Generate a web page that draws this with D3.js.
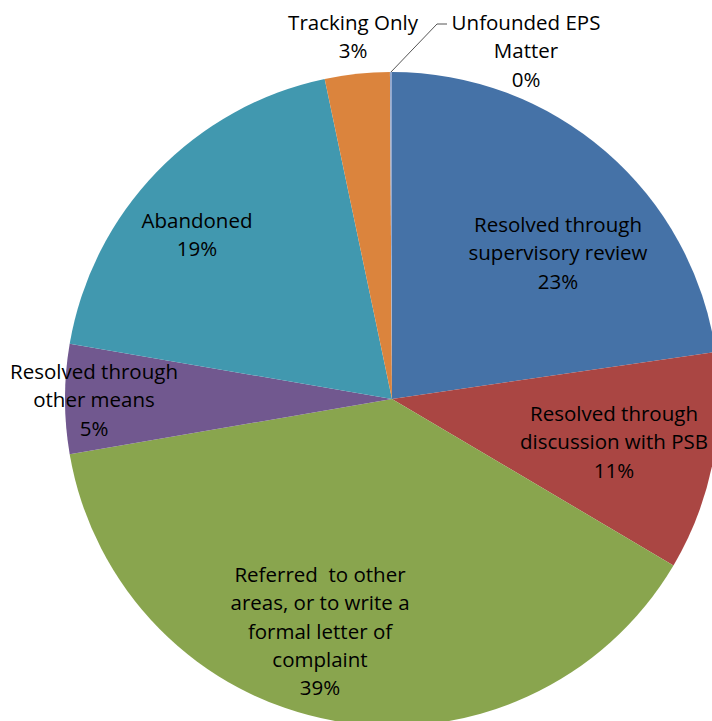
<!DOCTYPE html>
<html>
<head>
<meta charset="utf-8">
<script src="https://cdn.jsdelivr.net/npm/d3@7"></script>
<style>
  html, body { margin: 0; padding: 0; background: #fff; }
  svg { display: block; }
</style>
</head>
<body>
<div id="chart"></div>
<script>
// Slice data (clockwise from 12 o'clock)
const categories = [
    ['Resolved through', 'supervisory review'],
    ['Resolved through', 'discussion with PSB'],
    ['Referred  to other', 'areas, or to write a', 'formal letter of', 'complaint'],
    ['Resolved through', 'other means'],
    ['Abandoned'],
    ['Tracking Only'],
    ['Unfounded EPS', 'Matter']
];
const values = [22.7, 10.8, 38.8, 5.4, 19.0, 3.2, 0.1];
const colors = ['#4572A7', '#AA4643', '#89A54E', '#71588F', '#4198AF', '#DB843D', '#93A9CF'];

// Label anchors relative to the pie centre: [centre x, first baseline]
const labelAt = [
    [166, -167],
    [222, 22],
    [-72, 183],
    [-298, -20],
    [-195, -171],
    [-39, -369],
    [134, -369]
];

const width = 712, height = 721;
const cx = 392, cy = 399, radius = 327;
const lineHeight = 28.3;

const svg = d3.select('#chart')
    .append('svg')
    .attr('width', width)
    .attr('height', height);

const g = svg.append('g')
    .attr('transform', `translate(${cx},${cy})`);

const pie = d3.pie().sort(null).value(d => d);
const arcs = pie(values);
const arc = d3.arc().innerRadius(0).outerRadius(radius);

g.selectAll('path.slice')
    .data(arcs)
    .enter()
    .append('path')
    .attr('class', 'slice')
    .attr('d', arc)
    .attr('fill', (d, i) => colors[i]);

// leader line for the tiny slice
const last = arcs[arcs.length - 1];
const mid = (last.startAngle + last.endAngle) / 2;
g.append('polyline')
    .attr('points', [
        [radius * Math.sin(mid), -radius * Math.cos(mid)],
        [45, -375],
        [55, -375]
    ].map(p => p.join(',')).join(' '))
    .attr('fill', 'none')
    .attr('stroke', '#555')
    .attr('stroke-width', 1);

// labels
const labels = g.selectAll('text.label')
    .data(arcs)
    .enter()
    .append('text')
    .attr('class', 'label')
    .attr('text-anchor', 'middle')
    .style('font-family', '"Open Sans", Lato, sans-serif')
    .style('font-size', '20.5px')
    .style('white-space', 'pre')
    .attr('fill', '#000');

labels.each(function (d, i) {
    const t = d3.select(this);
    const lines = categories[i].concat([Math.round(d.data) + '%']);
    lines.forEach((s, k) => {
        t.append('tspan')
            .attr('x', labelAt[i][0])
            .attr('y', labelAt[i][1] + k * lineHeight)
            .text(s);
    });
});
</script>
</body>
</html>
